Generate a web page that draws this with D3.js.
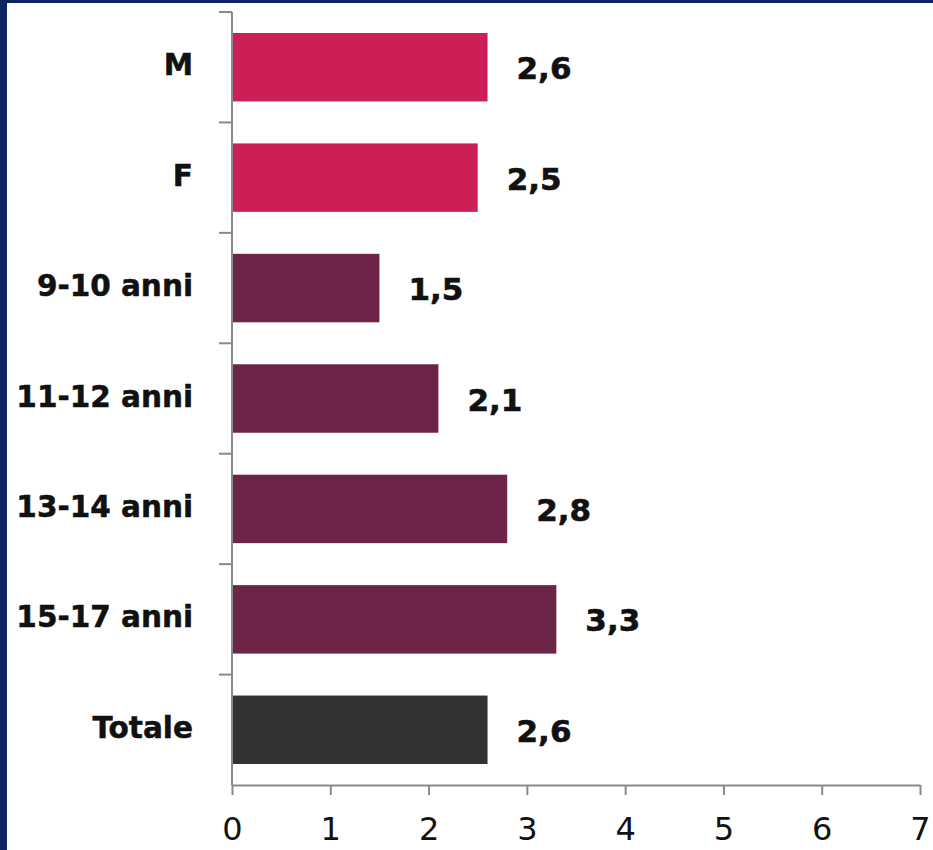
<!DOCTYPE html>
<html>
<head>
<meta charset="utf-8">
<script src="https://cdn.jsdelivr.net/npm/d3@7"></script>
<style>
  html, body { margin: 0; padding: 0; background: #ffffff; }
  svg { display: block; }
</style>
</head>
<body>
<svg id="chart" width="933" height="850"></svg>
<script>
// Categories (top to bottom), values and bar groups
const categories = ["M", "F", "9-10 anni", "11-12 anni", "13-14 anni", "15-17 anni", "Totale"];
const values = [2.6, 2.5, 1.5, 2.1, 2.8, 3.3, 2.6];
const groups = ["sesso", "sesso", "eta", "eta", "eta", "eta", "totale"];
const xTicks = [0, 1, 2, 3, 4, 5, 6, 7];

const groupColor = { sesso: "#cc1f55", eta: "#6c2449", totale: "#333333" };

const svg = d3.select("#chart");
const W = 933, H = 850;

// frame strips on the left and top edges
svg.append("rect").attr("x", 0).attr("y", 0).attr("width", W).attr("height", H).attr("fill", "#ffffff");
svg.append("rect").attr("x", 0).attr("y", 0).attr("width", 7).attr("height", H).attr("fill", "#0c2462");
svg.append("rect").attr("x", 0).attr("y", 0).attr("width", W).attr("height", 3).attr("fill", "#0c2462");

const x0 = 232, x1 = 920, yTop = 12, yBot = 785;

const x = d3.scaleLinear().domain([0, 7]).range([x0, x1]);
const y = d3.scaleBand().domain(categories).range([yTop, yBot])
  .paddingInner(0.38).paddingOuter(0.19);

const axisColor = "#8a8a8a";

// bars
const data = categories.map((c, i) => ({ c, v: values[i], g: groups[i] }));
svg.append("g").selectAll("rect").data(data).join("rect")
  .attr("x", x(0))
  .attr("y", d => y(d.c))
  .attr("width", d => x(d.v) - x(0))
  .attr("height", y.bandwidth())
  .attr("fill", d => groupColor[d.g]);

// value labels
const fmt = v => v.toFixed(1).replace(".", ",");
svg.append("g").selectAll("text").data(data).join("text")
  .attr("x", d => x(d.v) + 29)
  .attr("y", d => y(d.c) + y.bandwidth() / 2 + 1)
  .attr("dominant-baseline", "central")
  .attr("font-family", "DejaVu Sans, Verdana, sans-serif")
  .attr("font-weight", "bold")
  .attr("font-size", 31)
  .attr("fill", "#111")
  .attr("stroke", "#111").attr("stroke-width", 0.6)
  .text(d => fmt(d.v));

// vertical category axis with ticks at band boundaries
const step = y.step();
const boundaries = d3.range(categories.length + 1).map(i => yTop + i * step);
const yAxisG = svg.append("g");
yAxisG.append("line")
  .attr("x1", x0).attr("x2", x0).attr("y1", yTop).attr("y2", yBot)
  .attr("stroke", axisColor).attr("stroke-width", 2);
yAxisG.selectAll("line.tk").data(boundaries.slice(0, -1)).join("line")
  .attr("class", "tk")
  .attr("x1", x0 - 13).attr("x2", x0).attr("y1", d => d).attr("y2", d => d)
  .attr("stroke", axisColor).attr("stroke-width", 2);

// category labels
svg.append("g").selectAll("text").data(categories).join("text")
  .attr("x", 193)
  .attr("y", d => y(d) + y.bandwidth() / 2 - 2)
  .attr("text-anchor", "end")
  .attr("dominant-baseline", "central")
  .attr("font-family", "DejaVu Sans, Verdana, sans-serif")
  .attr("font-weight", "bold")
  .attr("font-size", 29.5)
  .attr("fill", "#111")
  .attr("stroke", "#111").attr("stroke-width", 0.5)
  .text(d => d);

// horizontal value axis
const xAxis = d3.axisBottom(x).tickValues(xTicks).tickFormat(d3.format("d"))
  .tickSize(10).tickSizeOuter(0).tickPadding(22);
const xg = svg.append("g").attr("transform", `translate(0,${yBot})`).call(xAxis);
xg.select(".domain").attr("stroke", axisColor).attr("stroke-width", 2);
xg.selectAll(".tick line").attr("stroke", axisColor).attr("stroke-width", 2);
xg.selectAll(".tick text")
  .attr("font-family", "DejaVu Sans, Verdana, sans-serif")
  .attr("font-size", 32)
  .attr("fill", "#111");
</script>
</body>
</html>
